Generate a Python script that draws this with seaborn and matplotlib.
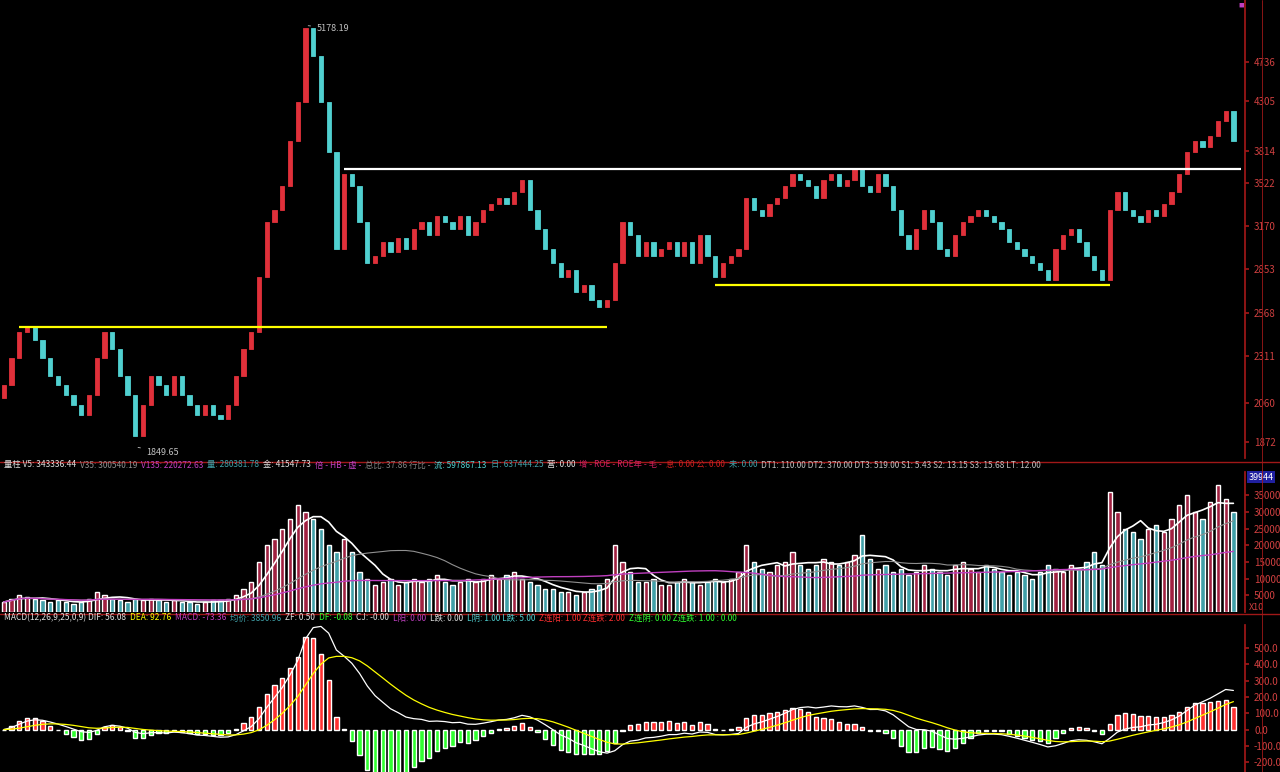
import numpy as np
import pandas as pd
import matplotlib
matplotlib.use("Agg")
import matplotlib.pyplot as plt
import seaborn as sns

sns.set_theme(style="dark")
plt.rcParams["font.family"] = ["Noto Sans CJK SC", "DejaVu Sans"]

# closing prices (one bar ~ 8 px)
closes = [2150, 2300, 2450, 2480, 2400, 2300, 2200, 2150, 2100, 2050, 2000, 2100, 2300, 2450, 2350, 2200, 2100,
          1900, 2050, 2200, 2150, 2100, 2200, 2100, 2050, 2000, 2050, 2000, 1980, 2050, 2200, 2350, 2450,
          2800, 3200, 3300, 3500, 3900, 4300, 5150, 4800, 4300, 3800, 3000, 3600, 3500, 3200, 2900,
          2950, 3050, 2980, 3080, 3000, 3150, 3200, 3100, 3250, 3200, 3150, 3250, 3100, 3200, 3300, 3350,
          3400, 3350, 3450, 3550, 3300, 3150, 3000, 2900, 2800, 2850, 2700, 2750, 2650, 2600,
          2650, 2900, 3200, 3100, 2950, 3050, 2950, 3000, 3050, 2950, 3050, 2900, 3100, 2950, 2800, 2900,
          2950, 3000, 3400, 3300, 3250, 3350, 3400, 3500, 3600, 3550, 3500, 3400, 3550, 3600, 3500, 3550,
          3650, 3500, 3450, 3600, 3500, 3300, 3100, 3000, 3150, 3300, 3200, 3000, 2950, 3100, 3200, 3250,
          3300, 3250, 3200, 3150, 3050, 3000, 2950, 2900, 2850, 2780, 3000, 3100, 3150, 3050, 2950, 2850,
          2780, 3300, 3450, 3300, 3250, 3200, 3300, 3250, 3350, 3450, 3600, 3800, 3900, 3850, 3950, 4100,
          4200, 3900]
volumes = [3000, 4000, 5000, 4500, 4000, 3500, 3000, 3500, 3000, 2500, 3000, 4000, 6000, 5000, 4000, 3500,
           3000, 4000, 3500, 4000, 3500, 3000, 3500, 3000, 3000, 2500, 3000, 3500, 3500, 4000, 5000, 7000, 9000,
           15000, 20000, 22000, 25000, 28000, 32000, 30000, 28000, 25000, 20000, 18000, 22000, 18000, 12000, 10000,
           8000, 9000, 10000, 8000, 9000, 10000, 9000, 10000, 11000, 9000, 8000, 9000, 10000, 9000, 10000, 11000,
           10000, 11000, 12000, 10000, 9000, 8000, 7000, 7000, 6000, 6000, 5000, 6000, 7000, 8000,
           10000, 20000, 15000, 12000, 9000, 9000, 10000, 8000, 8000, 9000, 10000, 9000, 8000, 9000, 10000, 9000,
           10000, 12000, 20000, 15000, 13000, 12000, 14000, 15000, 18000, 14000, 13000, 14000, 16000, 15000,
           14000, 15000, 17000, 23000, 16000, 13000, 14000, 12000, 13000, 11000, 12000, 14000, 13000, 12000,
           11000, 14000, 15000, 13000, 12000, 14000, 13000, 12000, 11000, 12000, 11000, 10000, 12000, 14000,
           13000, 12000, 14000, 13000, 15000, 18000, 14000, 36000, 30000, 25000, 24000, 22000, 25000, 26000,
           24000, 28000, 32000, 35000, 30000, 28000, 33000, 38000, 34000, 30000]
price_ticks = [4736, 4305, 3814, 3522, 3170, 2853, 2568, 2311, 2060, 1872]
vol_ticks = [5000, 10000, 15000, 20000, 25000, 30000, 35000]
macd_ticks = [-200, -100, 0, 100, 200, 300, 400, 500]
# support / resistance lines: (start bar, end bar, level, colour)
levels = [(2, 78, 2480, "#ffff00"), (44, 160, 3650, "#ffffff"), (92, 143, 2750, "#ffff00")]

BG = "black"
AX_RED = "#a01818"
UP = "#e0303a"
DOWN = "#50d0d0"

df = pd.DataFrame({"close": closes, "vol": volumes})
df["x"] = np.arange(len(df))
df["open"] = df["close"].shift(1).fillna(df["close"].iloc[0] * 0.97)
df["up"] = df["close"] >= df["open"]
df["ma5"] = df["vol"].rolling(5, min_periods=1).mean()
df["ma35"] = df["vol"].rolling(20, min_periods=1).mean()
df["ma135"] = df["vol"].rolling(60, min_periods=1).mean()
ema12 = df["close"].ewm(span=12, adjust=False).mean()
ema26 = df["close"].ewm(span=26, adjust=False).mean()
df["dif"] = ema12 - ema26
df["dea"] = df["dif"].ewm(span=9, adjust=False).mean()
df["macd"] = 2 * (df["dif"] - df["dea"])

fig = plt.figure(figsize=(12.8, 7.72), dpi=100, facecolor=BG)
right = 1245 / 1280
ax_p = fig.add_axes([0, 1 - 458 / 772, right, 458 / 772])
ax_v = fig.add_axes([0, 1 - 612 / 772, right, 140 / 772])
ax_m = fig.add_axes([0, 0, right, 147 / 772])

n = len(df)
for ax in (ax_p, ax_v, ax_m):
    ax.set_facecolor(BG)
    ax.set_xlim(-0.5, n + 0.5)
    ax.set_xticks([])
    ax.yaxis.tick_right()
    ax.tick_params(axis="y", colors=AX_RED, labelcolor="#d04040", labelsize=7, length=3, direction="out")
    for s in ax.spines.values():
        s.set_visible(False)
    ax.spines["right"].set_visible(True)
    ax.spines["right"].set_color(AX_RED)
    ax.grid(False)

# price pane
cols = np.where(df["up"], UP, DOWN)
lo = np.minimum(df["open"], df["close"])
hi = np.maximum(df["open"], df["close"])
ax_p.set_yscale("log")
ax_p.bar(df["x"], hi - lo, bottom=lo, width=0.55, color=cols, edgecolor=cols, linewidth=0.6)
ax_p.set_ylim(1800, 5510)
ax_p.set_yticks(price_ticks)
ax_p.set_yticklabels([str(t) for t in price_ticks])
ax_p.yaxis.set_minor_locator(matplotlib.ticker.NullLocator())
for a, b, lvl, c in levels:
    ax_p.hlines(lvl, a, b, color=c, linewidth=1.6)
imax = int(df["close"].idxmax())
imin = int(df["close"].idxmin())
ax_p.annotate("5178.19", (imax, 5178), xytext=(8, -2), textcoords="offset points", color="#c0c0c0", fontsize=6.5,
              va="center", arrowprops=dict(arrowstyle="-", color="#c0c0c0", lw=0.6))
ax_p.annotate("1849.65", (imin, 1849.65), xytext=(8, -4), textcoords="offset points", color="#c0c0c0", fontsize=6.5,
              va="center", arrowprops=dict(arrowstyle="-", color="#c0c0c0", lw=0.6))
ax_p.text(0.999, 0.985, "■", transform=ax_p.transAxes, color="#c040c0", fontsize=4, ha="right")

# volume pane
vcols = np.where(df["up"], "#a02040", "#40a0a8")
ax_v.bar(df["x"], df["vol"], width=0.55, color=vcols)
sns.lineplot(data=df, x="x", y="ma5", ax=ax_v, color="white", lw=1.2)
sns.lineplot(data=df, x="x", y="ma35", ax=ax_v, color="#909090", lw=0.8)
sns.lineplot(data=df, x="x", y="ma135", ax=ax_v, color="#c040c0", lw=1.0)
ax_v.set_ylim(0, 42000)
ax_v.set_yticks(vol_ticks)
ax_v.set_xlabel("")
ax_v.set_ylabel("")
ax_v.text(1.003, 0.0, "X10", transform=ax_v.transAxes, color="#d04040", fontsize=6.5, va="bottom")
ax_v.text(1.003, 0.93, "39944", transform=ax_v.transAxes, color="white", fontsize=6.5, va="bottom",
          bbox=dict(facecolor="#2020a0", edgecolor="none", pad=1))

# MACD pane
mcols = np.where(df["macd"] >= 0, "#ff3030", "#30ff30")
ax_m.bar(df["x"], df["macd"], width=0.55, color=mcols)
sns.lineplot(data=df, x="x", y="dif", ax=ax_m, color="white", lw=0.9)
sns.lineplot(data=df, x="x", y="dea", ax=ax_m, color="#ffff00", lw=0.9)
ax_m.set_ylim(-260, 640)
ax_m.set_yticks(macd_ticks)
ax_m.set_yticklabels([f"{t:.1f}" for t in macd_ticks])
ax_m.set_xlabel("")
ax_m.set_ylabel("")

# separators
for yy in (462, 614):
    fig.add_artist(plt.Line2D([0, 1], [1 - yy / 772] * 2, color=AX_RED, lw=1))
fig.add_artist(plt.Line2D([1262 / 1280] * 2, [0, 1], color=AX_RED, lw=0.6))

# indicator headers, laid out by measured text width
renderer = fig.canvas.get_renderer()
def header(y, parts):
    x = 0.003
    for txt, c in parts:
        t = fig.text(x, 1 - y / 772, txt, color=c, fontsize=6.0, va="center")
        w = t.get_window_extent(renderer).width / fig.bbox.width
        x += w + 0.003

header(465, [("量柱 V5: 343336.44", "#e0e0e0"), ("V35: 300540.19", "#909090"), ("V135: 220272.63", "#c040c0"),
             ("量: 280381.78", "#40a0a8"), ("金: 41547.73", "#e0e0e0"), ("倍 - HB - 虚 -", "#c040c0"),
             ("总比: 37.86 行比 -", "#808080"), ("流: 597867.13", "#50d0d0"), ("日: 637444.25", "#40a0a8"),
             ("营: 0.00", "#e0e0e0"), ("增 - ROE - ROE年 - 毛 -", "#d02060"), ("息: 0.00 公: 0.00", "#d02020"),
             ("未: 0.00", "#40a0a8"), ("DT1: 110.00 DT2: 370.00 DT3: 519.00 S1: 5.43 S2: 13.15 S3: 15.68 LT: 12.00", "#c0c0c0")])
header(618, [("MACD(12,26,9,25,0,9) DIF: 56.08", "#e0e0e0"), ("DEA: 92.76", "#ffff00"), ("MACD: -73.36", "#c040c0"),
             ("均价: 3850.96", "#40a0a8"), ("ZF: 0.50", "#e0e0e0"), ("DF: -0.08", "#30ff30"), ("CJ: -0.00", "#e0e0e0"),
             ("L阳: 0.00", "#c040c0"), ("L跌: 0.00", "#e0e0e0"), ("L阴: 1.00 L跌: 5.00", "#50d0d0"),
             ("Z连阳: 1.00 Z连跌: 2.00", "#ff3030"), ("Z连阴: 0.00 Z连跌: 1.00 : 0.00", "#30ff30")])

fig.savefig("out.png", dpi=100, facecolor=BG)
